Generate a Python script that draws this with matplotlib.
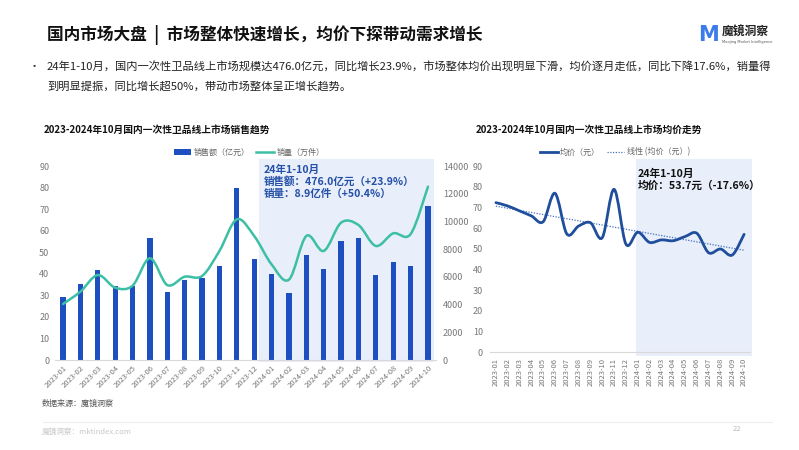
import numpy as np
import matplotlib
matplotlib.use("Agg")
import matplotlib.pyplot as plt
from matplotlib.path import Path
from matplotlib.patches import PathPatch, Rectangle
from matplotlib.lines import Line2D

plt.rcParams['font.family'] = ['Noto Sans CJK SC', 'DejaVu Sans']

# ---------------- data ----------------
months = ["2023-01", "2023-02", "2023-03", "2023-04", "2023-05", "2023-06",
          "2023-07", "2023-08", "2023-09", "2023-10", "2023-11", "2023-12",
          "2024-01", "2024-02", "2024-03", "2024-04", "2024-05", "2024-06",
          "2024-07", "2024-08", "2024-09", "2024-10"]
sales = [29.0, 35.3, 41.6, 34.5, 34.2, 56.4, 31.4, 37.0, 38.2, 43.6, 79.8, 46.9,
         39.9, 30.9, 48.7, 42.4, 55.4, 56.4, 39.6, 45.3, 43.6, 71.4]
volume = [4040, 4930, 6130, 5220, 5360, 7340, 5410, 6010, 6060, 7870, 10150, 8950,
          6900, 5800, 8950, 7870, 9910, 9740, 8230, 9140, 9090, 12510]
price = [72.3, 70.7, 68.3, 65.9, 63.1, 76.8, 57.2, 61.0, 62.6, 55.4, 78.7, 52.3,
         58.0, 53.1, 54.3, 53.9, 55.9, 57.5, 48.1, 49.9, 47.0, 57.0]
left_yticks = [0, 10, 20, 30, 40, 50, 60, 70, 80, 90]
right_yticks = [0, 2000, 4000, 6000, 8000, 10000, 12000, 14000]

W, H = 799, 450
fig = plt.figure(figsize=(W / 100, H / 100), dpi=100)
fig.patch.set_facecolor("white")


def fx(x):
    return x / W


def fy(y):
    return 1 - y / H


def smooth_path(xs, ys, t=1 / 6):
    xs = np.asarray(xs, float)
    ys = np.asarray(ys, float)
    n = len(xs)
    verts = [(xs[0], ys[0])]
    codes = [Path.MOVETO]
    for i in range(n - 1):
        p0 = np.array([xs[max(i - 1, 0)], ys[max(i - 1, 0)]])
        p1 = np.array([xs[i], ys[i]])
        p2 = np.array([xs[i + 1], ys[i + 1]])
        p3 = np.array([xs[min(i + 2, n - 1)], ys[min(i + 2, n - 1)]])
        c1 = p1 + (p2 - p0) * t
        c2 = p2 - (p3 - p1) * t
        verts += [tuple(c1), tuple(c2), tuple(p2)]
        codes += [Path.CURVE4] * 3
    return Path(verts, codes)


# ---------------- header ----------------
fig.text(fx(47), fy(35), "国内市场大盘  |  市场整体快速增长，均价下探带动需求增长",
         fontsize=12, fontweight="bold", color="#111111", va="center", ha="left")
fig.text(fx(709), fy(35), "M", fontsize=15, fontweight="bold", color="#3B7BEB",
         va="center", ha="center", family=["DejaVu Sans"])
fig.text(fx(722), fy(32), "魔镜洞察", fontsize=8.5, fontweight="bold", color="#222222",
         va="center", ha="left")
fig.text(fx(722), fy(42), "Moojing Market Intelligence", fontsize=2.6, color="#555555",
         va="center", ha="left", family=["DejaVu Sans"])

fig.text(fx(29), fy(67), "•", fontsize=8, color="#333333", va="center", ha="left")
fig.text(fx(47), fy(67),
         "24年1-10月，国内一次性卫品线上市场规模达476.0亿元，同比增长23.9%，市场整体均价出现明显下滑，均价逐月走低，同比下降17.6%，销量得",
         fontsize=8.1, color="#222222", va="center", ha="left")
fig.text(fx(47), fy(86), "到明显提振，同比增长超50%，带动市场整体呈正增长趋势。",
         fontsize=8.1, color="#222222", va="center", ha="left")

# ---------------- left chart ----------------
fig.text(fx(44), fy(130), "2023-2024年10月国内一次性卫品线上市场销售趋势",
         fontsize=7, fontweight="bold", color="#111111", va="center", ha="left")

axL = fig.add_axes([fx(55), fy(360), (436 - 55) / W, (360 - 166) / H])
x = np.arange(len(months))
axL.set_xlim(-0.46, 21.46)
axL.set_ylim(0, 90)
axL.add_patch(Rectangle((11.28, -1.0), 21.35 - 11.28, 94.2, facecolor="#E8EEFA",
                        edgecolor="none", zorder=0, clip_on=False))
bar_color = "#1E4FC0"
axL.bar(x, sales, width=0.3, color=bar_color, zorder=2)
axL.set_yticks(left_yticks)
axL.set_xticks(x)
axL.set_xticklabels(months, rotation=45, ha="right", va="top", rotation_mode="anchor",
                    fontsize=5.5, color="#777777")
axL.tick_params(axis="y", length=0, pad=4, labelsize=6.5, labelcolor="#777777")
axL.tick_params(axis="x", length=0, pad=3)
for s in ["top", "right", "left"]:
    axL.spines[s].set_visible(False)
axL.spines["bottom"].set_color("#D9D9D9")
axL.spines["bottom"].set_linewidth(0.8)
axL.patch.set_alpha(0)

axR = axL.twinx()
axR.set_ylim(0, 14000)
axR.set_xlim(-0.46, 21.46)
axR.set_yticks(right_yticks)
axR.tick_params(axis="y", length=0, pad=5, labelsize=6.5, labelcolor="#777777")
for s in ["top", "right", "left", "bottom"]:
    axR.spines[s].set_visible(False)
line_color = "#3CBFA5"
axR.add_patch(PathPatch(smooth_path(x, volume), facecolor="none", edgecolor=line_color,
                        lw=1.8, zorder=3, capstyle="round"))

axR.text(11.55, 14120, "24年1-10月\n销售额：476.0亿元（+23.9%）\n销量：8.9亿件（+50.4%）",
         fontsize=7.6, fontweight="bold", color="#2450A8", va="top", ha="left",
         linespacing=1.2, zorder=5)

handles = [Rectangle((0, 0), 1, 1, facecolor=bar_color, edgecolor="none"),
           Line2D([0], [0], color=line_color, lw=1.8)]
fig.legend(handles, ["销售额（亿元）", "销量（万件）"], loc="center",
           bbox_to_anchor=(fx(249), fy(152)), ncol=2, frameon=False, fontsize=5.8,
           handlelength=2.2, handleheight=0.7, columnspacing=0.8, handletextpad=0.3,
           labelcolor="#666666")

fig.text(fx(42), fy(403), "数据来源：魔镜洞察", fontsize=5.8, color="#555555",
         va="center", ha="left")

# ---------------- right chart ----------------
fig.text(fx(476), fy(130), "2023-2024年10月国内一次性卫品线上市场均价走势",
         fontsize=7, fontweight="bold", color="#111111", va="center", ha="left")

ax2 = fig.add_axes([fx(490), fy(352.3), (750 - 490) / W, (352.3 - 166) / H])
ax2.set_xlim(-0.5, 21.5)
ax2.set_ylim(0, 90)
ax2.add_patch(Rectangle((11.85, -1.9), 21.65 - 11.85, 95.3, facecolor="#E8EEFA",
                        edgecolor="none", zorder=0, clip_on=False))
price_color = "#1F4E9C"
ax2.add_patch(PathPatch(smooth_path(x, price), facecolor="none", edgecolor=price_color,
                        lw=2.0, zorder=3, capstyle="round"))
k, b = np.polyfit(x, price, 1)
ax2.plot(x, k * x + b, linestyle=(0, (1, 1.2)), color="#4472C4", lw=0.9, zorder=2)
ax2.set_yticks(left_yticks)
ax2.set_xticks(x)
ax2.set_xticklabels(months, rotation=90, ha="center", va="top", fontsize=5.5,
                    color="#777777")
ax2.tick_params(axis="y", length=0, pad=5, labelsize=6.5, labelcolor="#777777")
ax2.tick_params(axis="x", length=0, pad=4)
for s in ["top", "right", "left"]:
    ax2.spines[s].set_visible(False)
ax2.spines["bottom"].set_color("#D9D9D9")
ax2.spines["bottom"].set_linewidth(0.8)
ax2.patch.set_alpha(0)

ax2.text(12.0, 88.5, "24年1-10月\n均价：53.7元（-17.6%）", fontsize=7.7, fontweight="bold",
         color="#111111", va="top", ha="left", linespacing=1.15, zorder=5)

handles2 = [Line2D([0], [0], color=price_color, lw=2.0),
            Line2D([0], [0], color="#4472C4", lw=0.9, linestyle=(0, (1, 1.2)))]
fig.legend(handles2, ["均价（元）", "线性 (均价（元）)"], loc="center",
           bbox_to_anchor=(fx(615), fy(152)), ncol=2, frameon=False, fontsize=5.8,
           handlelength=2.2, columnspacing=0.8, handletextpad=0.3,
           labelcolor="#666666")

# ---------------- footer ----------------
fig.add_artist(Line2D([fx(43), fx(772)], [fy(422), fy(422)], color="#EEEEEE", lw=0.8))
fig.text(fx(42), fy(432), "魔镜洞察：mktindex.com", fontsize=5.5, color="#C8C8C8",
         va="center", ha="left")
fig.text(fx(733), fy(429), "22", fontsize=5.5, color="#BBBBBB", va="center", ha="left")

fig.savefig("out.png", dpi=100, facecolor="white")
